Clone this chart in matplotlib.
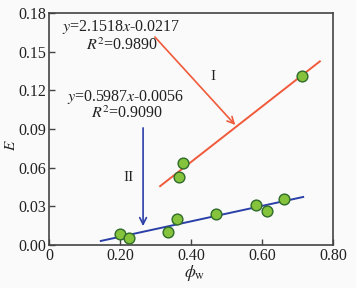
import matplotlib
matplotlib.use("Agg")
import matplotlib.pyplot as plt
import numpy as np

plt.rcParams['font.family'] = ['Liberation Serif', 'DejaVu Serif']
plt.rcParams['mathtext.fontset'] = 'stix'

# Data
phi_II = [0.200, 0.225, 0.335, 0.360, 0.470, 0.583, 0.614, 0.662]
E_II = [0.0088, 0.0055, 0.0100, 0.0198, 0.0240, 0.0310, 0.0262, 0.0356]
phi_I = [0.366, 0.377, 0.713]
E_I = [0.0527, 0.0638, 0.1310]
fit_I = (0.21518, -0.0217)
fit_II = (0.05987, -0.0056)
range_I = (0.313, 0.763)
range_II = (0.146, 0.716)
xticks = [0, 0.20, 0.40, 0.60, 0.80]
xtick_labels = ['0', '0.20', '0.40', '0.60', '0.80']
yticks = [0.00, 0.03, 0.06, 0.09, 0.12, 0.15, 0.18]
ytick_labels = ['0.00', '0.03', '0.06', '0.09', '0.12', '0.15', '0.18']

red = '#f05a3a'
blue = '#2b3fa8'
green_face = '#86c33c'
green_edge = '#2e6b2a'
bg = '#fafafa'
txt = '#222222'

fig = plt.figure(figsize=(3.56, 2.88), dpi=100, facecolor=bg)
ax = fig.add_axes([49/356, 1 - 245/288, (333-49)/356, (245-13)/288], facecolor=bg)

xs = np.array(range_I)
ax.plot(xs, fit_I[0]*xs + fit_I[1], color=red, lw=1.4, zorder=2)
xs = np.array(range_II)
ax.plot(xs, fit_II[0]*xs + fit_II[1], color=blue, lw=1.4, zorder=2)

ax.scatter(phi_I, E_I, s=60, facecolor=green_face, edgecolor=green_edge, lw=1.0, zorder=3)
ax.scatter(phi_II, E_II, s=60, facecolor=green_face, edgecolor=green_edge, lw=1.0, zorder=3)

ax.annotate('', xy=(0.530, 0.0915), xytext=(0.293, 0.163),
            arrowprops=dict(arrowstyle='->', color=red, lw=1.2, mutation_scale=12))
ax.annotate('', xy=(0.265, 0.0125), xytext=(0.265, 0.093),
            arrowprops=dict(arrowstyle='->', color=blue, lw=1.2, mutation_scale=12))

ax.text(0.462, 0.131, 'I', fontsize=11, ha='center', va='center', color=txt)
ax.text(0.225, 0.052, 'II', fontsize=11, ha='center', va='center', color=txt)

fs = 11.5
ax.text(0.203, 0.169, r'$y$=2.1518$x$-0.0217', fontsize=fs, ha='center', va='center', color=txt)
ax.text(0.207, 0.155, r'$R^2$=0.9890', fontsize=fs, ha='center', va='center', color=txt)
ax.text(0.217, 0.115, r'$y$=0.5987$x$-0.0056', fontsize=fs, ha='center', va='center', color=txt)
ax.text(0.220, 0.1015, r'$R^2$=0.9090', fontsize=fs, ha='center', va='center', color=txt)

ax.set_xlim(0, 0.80)
ax.set_ylim(0, 0.18)
ax.set_xticks(xticks)
ax.set_xticklabels(xtick_labels)
ax.set_yticks(yticks)
ax.set_yticklabels(ytick_labels)
ax.tick_params(direction='in', length=4, width=1, labelsize=11.5, color='#444444',
               labelcolor=txt, pad=2)
for s in ax.spines.values():
    s.set_color('#444444')
    s.set_linewidth(1.2)

ax.set_xlabel(r'$\phi_{\mathrm{w}}$', fontsize=12.5, color=txt)
ax.set_ylabel(r'$E$', fontsize=11, color=txt)
ax.xaxis.set_label_coords((195-49)/284, -(263-245)/232)
ax.yaxis.set_label_coords(-(49-18)/284, (245-145)/232)

fig.savefig('out.png', dpi=100, facecolor=bg)
